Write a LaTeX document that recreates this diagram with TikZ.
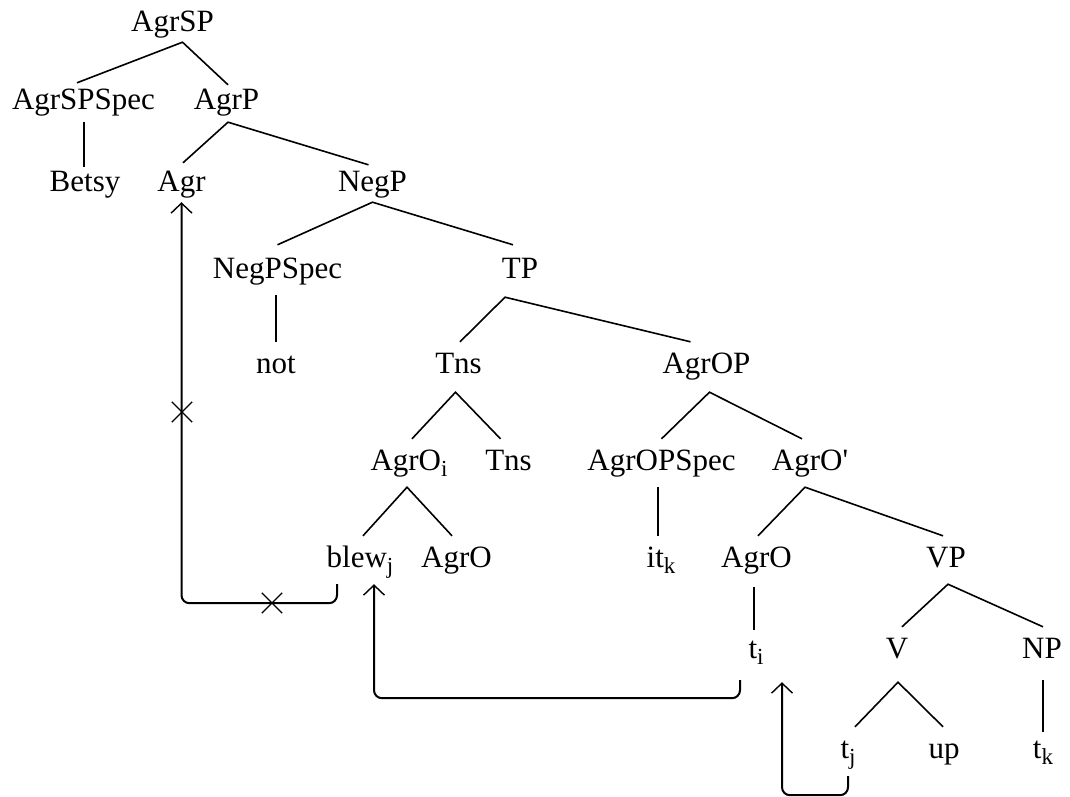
\documentclass[tikz,border=0pt]{standalone}
\usepackage{fontspec}
\setmainfont{Liberation Serif}[Ligatures=TeXOff]
\usetikzlibrary{arrows.meta,shapes.misc}
\newcommand{\sbs}[1]{\raisebox{-6pt}{\fontsize{23}{23}\selectfont #1}}
\begin{document}
\begin{tikzpicture}[x=1pt,y=-1pt,
  lab/.style={anchor=base, inner sep=0pt, text height=31pt, text depth=17pt, font=\fontsize{31}{36}\selectfont},
  edge/.style={line width=1.6pt},
  stem/.style={line width=2pt},
  mov/.style={line width=2pt, rounded corners=8pt, -{Straight Barb[length=10pt,width=21pt,line width=1.4pt]}},
  xmark/.style={cross out, draw, line width=1.3pt, minimum size=19pt, inner sep=0pt}]
\useasboundingbox (0,0) rectangle (1070,797);
% nodes
\node[lab] (AgrSP) at (172.5,32) {AgrSP};
\node[lab] (AgrSPSpec) at (83.5,110) {AgrSPSpec};
\node[lab] (AgrP) at (226.5,110) {AgrP};
\node[lab] (Betsy) at (85,191) {Betsy};
\node[lab] (Agr) at (181.5,191) {Agr};
\node[lab] (NegP) at (372.5,191) {NegP};
\node[lab] (NegPSpec) at (277.5,278) {NegPSpec};
\node[lab] (TP) at (520,278) {TP};
\node[lab] (not) at (276,373) {not};
\node[lab] (Tns) at (458.5,373) {Tns};
\node[lab] (AgrOP) at (706.5,373) {AgrOP};
\node[lab] (AgrOi) at (409,470) {AgrO\sbs{i}};
\node[lab] (Tns2) at (508.5,470) {Tns};
\node[lab] (AgrOPSpec) at (661.5,470) {AgrOPSpec};
\node[lab] (AgrObar) at (810,470) {AgrO'};
\node[lab] (blew) at (360,567) {blew\sbs{j}};
\node[lab] (AgrO1) at (456.5,567) {AgrO};
\node[lab] (it) at (661,567) {it\sbs{k}};
\node[lab] (AgrO2) at (756.5,567) {AgrO};
\node[lab] (VP) at (946,567) {VP};
\node[lab] (ti) at (756,658) {t\sbs{i}};
\node[lab] (V) at (897,658) {V};
\node[lab] (NP) at (1042,658) {NP};
\node[lab] (tj) at (848,758) {t\sbs{j}};
\node[lab] (up) at (944,758) {up};
\node[lab] (tk) at (1043,758) {t\sbs{k}};
% tree edges
\draw[edge] ([xshift=-6.5pt,yshift=-4pt]AgrSPSpec.north) -- ([xshift=10pt,yshift=7pt]AgrSP.south) -- ([xshift=1.5pt,yshift=-6pt]AgrP.north);
\draw[edge] ([xshift=1.5pt,yshift=-3pt]Agr.north) -- ([xshift=1.5pt,yshift=5pt]AgrP.south) -- ([xshift=-4pt,yshift=-5pt]NegP.north);
\draw[stem] ([yshift=5pt]AgrSPSpec.south) -- ([xshift=-1.5pt,yshift=-7pt]Betsy.north);
\draw[edge] ([yshift=2pt]NegPSpec.north) -- ([yshift=6pt]NegP.south) -- ([xshift=-7pt,yshift=2pt]TP.north);
\draw[stem] (not.north) -- (not.north |- NegPSpec.south);
\draw[edge] ([xshift=1.5pt]Tns.north) -- ([xshift=-15pt,yshift=-2pt]TP.south) -- ([xshift=-16pt]AgrOP.north);
\draw[edge] ([xshift=3pt]AgrOi.north) -- ([xshift=-3pt,yshift=-2pt]Tns.south) -- ([xshift=-8pt]Tns2.north);
\draw[edge] (AgrOPSpec.north) -- ([xshift=3pt,yshift=-2pt]AgrOP.south) -- ([xshift=-8pt]AgrObar.north);
\draw[stem] ([xshift=-3pt]it.north) -- ([xshift=-3pt]it.north |- AgrOPSpec.south);
\draw[edge] ([xshift=1.5pt]AgrO2.north) -- ([xshift=-5pt]AgrObar.south) -- ([xshift=-3pt]VP.north);
\draw[edge] ([xshift=3pt]blew.north) -- ([xshift=-2pt]AgrOi.south) -- ([xshift=-4.5pt]AgrO1.north);
\draw[stem] ([xshift=-2pt,yshift=-3pt]ti.north) -- ([xshift=-2pt,yshift=-3pt]ti.north |- AgrO2.south);
\draw[edge] ([xshift=5pt]V.north) -- ([xshift=2pt]VP.south) -- ([xshift=1pt]NP.north);
\draw[edge] ([xshift=7pt]tj.north) -- ([xshift=1pt,yshift=-7pt]V.south) -- ([xshift=-1pt]up.north);
\draw[stem] ([xshift=1pt,yshift=-5pt]NP.south) -- ([xshift=1pt,yshift=-5pt]NP.south |- tk.north);
% movement arrows
\draw[mov] ([xshift=-23pt]blew.south) -- ++(0,19) -| ([yshift=6pt]Agr.south);
\draw[mov] ([xshift=-16pt,yshift=-5pt]ti.south) -- ++(0,18) -| ([xshift=14pt]blew.south);
\draw[mov] ([yshift=-1pt]tj.south) -- ++(0,19) -| ([xshift=26pt,yshift=-7pt]ti.south);
% crossed-out marks
\node[xmark] (x1) at (182,412) {};
\node[xmark] (x2) at (272,603) {};
\end{tikzpicture}
\end{document}
